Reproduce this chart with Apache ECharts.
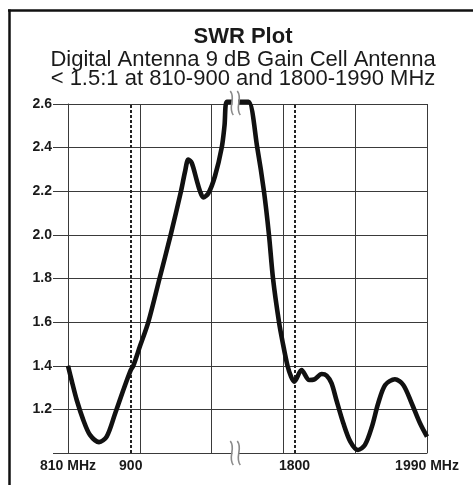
<!DOCTYPE html>
<html>
<head>
<meta charset="utf-8">
<script src="https://cdn.jsdelivr.net/npm/echarts@6/dist/echarts.min.js"></script>
<style>
html,body{margin:0;padding:0;background:#fff;overflow:hidden;}
#c{width:473px;height:485px;}
</style>
</head>
<body>
<div id="c"></div>
<script>
// ---- data (frequency in MHz, SWR) ----
const freqMHz = [810, 815, 822.5, 832, 841.5, 854.5, 865.5, 877.5, 889.5, 900, 903.7, 913.3, 925.2, 941.3, 957.3, 972.1, 977.9, 982.6, 987.5, 994.7, 999.4, 1004.1, 1011.3, 1020.9, 1030.5, 1034.5, 1037.7, 1045,
                 1725, 1734, 1746.5, 1756.1, 1763.3, 1769.1, 1777.7, 1783.4, 1789.9, 1795, 1799.5, 1810, 1821, 1828, 1839, 1846, 1853, 1860, 1870, 1880, 1891, 1901, 1911, 1920, 1930, 1944, 1956, 1968, 1980, 1990];
const swr     = [1.40, 1.335, 1.243, 1.151, 1.083, 1.05, 1.075, 1.18, 1.29, 1.38, 1.40, 1.49, 1.60, 1.80, 2.00, 2.20, 2.29, 2.345, 2.33, 2.25, 2.20, 2.172, 2.19, 2.27, 2.40, 2.50, 2.61, 2.61,
                 2.61, 2.61, 2.40, 2.20, 2.00, 1.80, 1.60, 1.50, 1.40, 1.35, 1.327, 1.38, 1.335, 1.337, 1.362, 1.355, 1.32, 1.243, 1.136, 1.052, 1.014, 1.037, 1.121, 1.228, 1.312, 1.338, 1.312, 1.228, 1.136, 1.075];

// axis break: frequencies between breakLo and breakHi are not shown
const breakLo = 1050;
const breakHi = 1715;

const xTickFreqs  = [810, 900, 1800, 1990];
const xTickLabels = ['810 MHz', '900', '1800', '1990 MHz'];
const markerFreqs = [900, 1800];          // dotted band-edge lines
const yTicks = [1.0, 1.2, 1.4, 1.6, 1.8, 2.0, 2.2, 2.4, 2.6];

const titleText = 'SWR Plot';
const subText = 'Digital Antenna 9 dB Gain Cell Antenna\n< 1.5:1 at 810-900 and 1800-1990 MHz';

// ---- mapping with broken axis ----
function toAxis(f) { return f <= breakLo ? f : (f >= breakHi ? f - (breakHi - breakLo) : breakLo); }
const xMin = toAxis(xTickFreqs[0]);
const xMax = toAxis(xTickFreqs[xTickFreqs.length - 1]);

const FONT = '"Liberation Sans", Arial, Helvetica, sans-serif';
const GRID = '#3a3a3a';

const chart = echarts.init(document.getElementById('c'));
const option = {
  backgroundColor: '#ffffff',
  animation: false,
  title: [
    { text: titleText, left: 238, textAlign: 'center', top: 21,
      textStyle: { fontFamily: FONT, fontSize: 22, fontWeight: 'bold', color: '#1a1a1a', lineHeight: 22 } },
    { text: subText, left: 238, textAlign: 'center', top: 45,
      textStyle: { fontFamily: FONT, fontSize: 22, fontWeight: 'normal', color: '#1a1a1a', lineHeight: 19 } }
  ],
  grid: { left: 68, right: 46, top: 104, bottom: 32, containLabel: false },
  xAxis: [
    { type: 'value', min: xMin, max: xMax, position: 'bottom',
      axisLine: { show: true, lineStyle: { color: GRID, width: 1 } },
      axisTick: { show: false },
      splitLine: { show: false },
      axisLabel: {
        show: true, margin: 6,
        customValues: xTickFreqs.map(toAxis),
        formatter: function (v) {
          for (let i = 0; i < xTickFreqs.length; i++) if (Math.abs(toAxis(xTickFreqs[i]) - v) < 1e-6) return xTickLabels[i];
          return '';
        },
        fontFamily: FONT, fontSize: 14, fontWeight: 'bold', color: '#1a1a1a'
      }
    },
    { type: 'value', min: 0, max: 5, interval: 1, position: 'bottom',
      axisLine: { show: false }, axisTick: { show: false }, axisLabel: { show: false },
      splitLine: { show: true, lineStyle: { color: GRID, width: 1 } }
    }
  ],
  yAxis: {
    type: 'value', min: yTicks[0], max: yTicks[yTicks.length - 1], interval: 0.2,
    axisLine: { show: true, lineStyle: { color: GRID, width: 1 } },
    axisTick: { show: true, inside: false, length: 15, lineStyle: { color: GRID, width: 1 } },
    splitLine: { show: true, lineStyle: { color: GRID, width: 1 } },
    axisLabel: {
      margin: 16, fontFamily: FONT, fontSize: 14, fontWeight: 'bold', color: '#1a1a1a',
      formatter: function (v) { return v < 1.05 ? '' : v.toFixed(1); }
    }
  },
  series: [{
    type: 'line',
    xAxisIndex: 0,
    data: freqMHz.map((f, i) => [toAxis(f), swr[i]]),
    smooth: 0.3,
    showSymbol: false,
    symbol: 'none',
    clip: false,
    lineStyle: { color: '#111', width: 4.6, cap: 'butt', join: 'round' },
    markLine: {
      silent: true, symbol: 'none', label: { show: false },
      lineStyle: { color: '#222', type: [3, 2], width: 2 },
      data: markerFreqs.map(f => ({ xAxis: toAxis(f) }))
    },
    z: 5
  }]
};
chart.setOption(option);

// decorative break marks and outer frame
const bx = chart.convertToPixel({ xAxisIndex: 0 }, breakLo);
const yTop = chart.convertToPixel({ yAxisIndex: 0 }, yTicks[yTicks.length - 1]);
const yBot = chart.convertToPixel({ yAxisIndex: 0 }, yTicks[0]);
function breakMark(cx, cy) {
  const els = [{ type: 'rect', shape: { x: cx - 3, y: cy - 5, width: 6, height: 10 }, style: { fill: '#fff' }, z: 100 }];
  [-3.5, 3.5].forEach(d => {
    const x = cx + d;
    els.push({ type: 'bezierCurve', z: 101,
      shape: { x1: x - 1.5, y1: cy - 12, cpx1: x + 4.5, cpy1: cy - 4, cpx2: x - 4.5, cpy2: cy + 4, x2: x + 1.5, y2: cy + 12 },
      style: { stroke: '#8a8a8a', lineWidth: 1.6, fill: null } });
  });
  return els;
}
chart.setOption({
  graphic: [
    { type: 'rect', shape: { x: 466, y: 13, width: 10, height: 480 }, style: { fill: '#fff' }, z: 200 },
    { type: 'line', shape: { x1: 8, y1: 10.5, x2: 473, y2: 10.5 }, style: { stroke: '#111', lineWidth: 2.5 }, z: 50 },
    { type: 'line', shape: { x1: 9.5, y1: 9.5, x2: 9.5, y2: 485 }, style: { stroke: '#111', lineWidth: 2.5 }, z: 50 }
  ].concat(breakMark(bx, yTop - 1)).concat(breakMark(bx, yBot))
});
</script>
</body>
</html>
